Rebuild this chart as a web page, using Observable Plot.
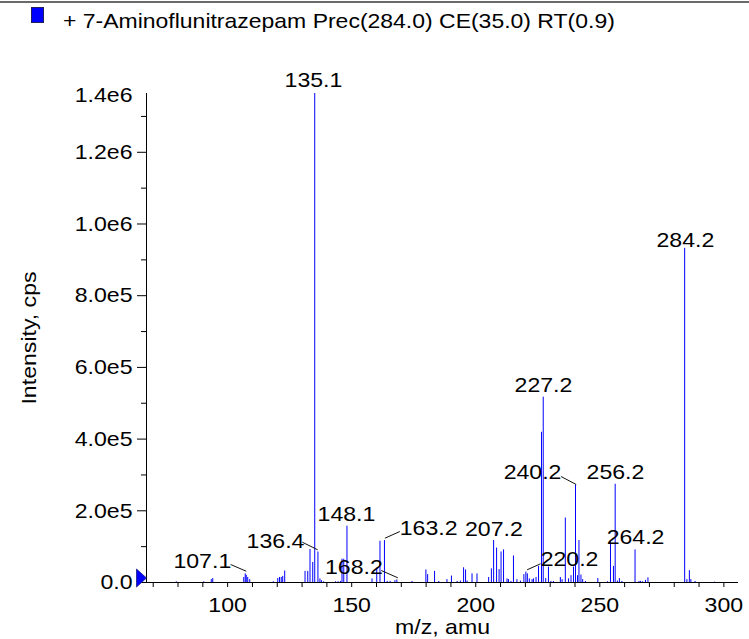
<!DOCTYPE html>
<html>
<head>
<meta charset="utf-8">
<script src="https://cdn.jsdelivr.net/npm/d3@7"></script>
<script src="https://cdn.jsdelivr.net/npm/@observablehq/plot@0.6"></script>
<style>
  html, body { margin: 0; padding: 0; background: #fff; }
  #page { position: relative; width: 749px; height: 639px; overflow: hidden; }
  #hdr { position: relative; width: 749px; height: 40px; }
  #topline { position: absolute; left: 0; top: 1px; width: 749px; height: 2px; background: #6a6a6a; }
  #swatch { position: absolute; left: 31px; top: 7px; width: 13px; height: 16px; background: #0000ff; border: 1px solid #202060; box-sizing: border-box; }
  #title { position: absolute; left: 63px; top: 10px; font-family: "Liberation Sans", Arial, sans-serif; font-size: 21px; line-height: 21px; white-space: nowrap; transform: scaleX(1.094); transform-origin: 0 0; color: #000; }
  #chart svg { display: block; }
</style>
</head>
<body>
<div id="page">
  <div id="hdr">
    <div id="topline"></div>
    <div id="swatch"></div>
    <div id="title">+ 7-Aminoflunitrazepam Prec(284.0) CE(35.0) RT(0.9)</div>
  </div>
  <div id="chart"></div>
</div>
<script>
// ---- data ----
const peakMz = [
  79.3, 90.4, 93.4, 94.0, 106.5, 107.1, 107.5, 108.1, 108.9,
  118.4, 120.2, 120.9, 121.6, 122.2, 123.0,
  131.2, 132.3, 133.2, 134.3, 135.1, 136.4, 137.2, 137.8, 138.7,
  143.5, 144.5, 145.5, 146.1, 146.8, 148.1,
  158.2, 160.1, 161.4, 163.2, 164.3, 165.5, 167.4, 168.2, 174.3,
  179.9, 180.6, 183.4, 185.1, 188.4, 190.2, 192.5, 193.8, 195.1, 195.9, 196.5,
  198.5, 200.5, 205.2, 206.3, 207.2, 208.4, 209.4, 210.2, 211.2, 212.6, 213.2, 214.2,
  215.2, 216.6, 218.0, 219.4, 220.2, 220.8, 221.6, 222.7, 223.3, 224.3, 225.3,
  226.5, 227.2, 228.2, 229.3, 230.3, 231.3, 234.1, 234.8, 236.1, 237.4, 238.4, 239.4,
  240.2, 241.0, 241.6, 242.4, 243.1, 244.2, 249.2,
  253.1, 254.3, 255.5, 256.2, 257.1, 257.9, 258.9,
  264.2, 265.8, 266.4, 267.2, 268.4, 269.4,
  284.2, 285.1, 286.1, 286.7, 288.4, 296.2
];
const peakIntensity = [
  2000, 2000, 8000, 11000, 14000, 24000, 20000, 14000, 8000,
  2000, 11000, 14000, 14000, 17000, 32000,
  31000, 31000, 92000, 56000, 1364000, 85000, 10000, 5000, 2000,
  2000, 2000, 3000, 65000, 65000, 157000,
  10000, 40000, 115000, 117000, 3000, 3000, 5000, 7000, 3000,
  35000, 22000, 31000, 3000, 8000, 18000, 3000, 4000, 41000, 35000, 4000,
  24000, 24000, 14000, 38000, 117000, 96000, 36000, 85000, 91000, 10000, 8000, 3000,
  74000, 8000, 4000, 22000, 29000, 24000, 10000, 8000, 10000, 14000, 45000,
  419000, 517000, 11000, 43000, 3000, 3000, 14000, 8000, 180000, 10000, 19000, 43000,
  272000, 19000, 117000, 21000, 8000, 3000, 11000,
  2000, 113000, 45000, 274000, 4000, 11000, 3000,
  91000, 3000, 3000, 2000, 6000, 13000,
  932000, 8000, 33000, 8000, 3000, 1000
];

// peak annotations: text and where the text sits (m/z, intensity units)
const labelText = ["135.1", "284.2", "227.2", "240.2", "256.2", "264.2", "220.2", "207.2", "163.2", "168.2", "148.1", "136.4", "107.1"];
const labelMz   = [134.6, 284.5, 227.3, 222.9, 256.3, 264.4, 237.8, 207.3, 181.0, 150.9, 147.9, 119.3, 89.8];
const labelY    = [1400000, 954000, 549000, 307000, 307000, 125000, 65500, 148000, 150600, 41800, 189700, 114400, 58600];

// leader lines from label to peak
const leaderFromMz = [234.4, 226.1, 169.4, 161.9, 130.1, 101.2];
const leaderFromY  = [295600, 52200, 142200, 33500, 112400, 50200];
const leaderToMz   = [240.5, 220.7, 163.4, 168.6, 136.3, 107.5];
const leaderToY    = [273300, 35400, 123600, 13100, 91200, 31500];

// axes
const xDomain = [67.3, 305.9];
const yDomain = [0, 1364000];
const xTickValues = [70, 80, 90, 100, 110, 120, 130, 140, 150, 160, 170, 180, 190, 200, 210, 220, 230, 240, 250, 260, 270, 280, 290, 300];
const xLabelValues = [100, 150, 200, 250, 300];
const xLabelText = ["100", "150", "200", "250", "300"];
const yMajorTicks = [0, 200000, 400000, 600000, 800000, 1000000, 1200000];
const yMajorText = ["0.0", "2.0e5", "4.0e5", "6.0e5", "8.0e5", "1.0e6", "1.2e6"];
const yMinorTicks = [100000, 300000, 500000, 700000, 900000, 1100000, 1300000];
const yTopLabel = "1.4e6";
const xTitle = "m/z, amu";
const yTitle = "Intensity, cps";

// ---- build tables ----
const peaks = peakMz.map((mz, i) => ({mz, intensity: peakIntensity[i]}));
const labels = labelText.map((t, i) => ({t, x: labelMz[i], y: labelY[i]}));
const leaders = leaderFromMz.map((x1, i) => ({x1, y1: leaderFromY[i], x2: leaderToMz[i], y2: leaderToY[i]}));
const xLabelMap = new Map(xLabelValues.map((v, i) => [v, xLabelText[i]]));
const yLabelMap = new Map(yMajorTicks.map((v, i) => [v, yMajorText[i]]));

const triangle = {
  draw(ctx) {
    ctx.moveTo(-10, -9);
    ctx.lineTo(0, 0);
    ctx.lineTo(-10, 9);
    ctx.closePath();
  }
};

const chart = Plot.plot({
  width: 749,
  height: 599,
  marginLeft: 146,
  marginRight: 11,
  marginTop: 53,
  marginBottom: 57,
  x: {domain: xDomain},
  y: {domain: yDomain},
  style: {fontFamily: "'Liberation Sans', Arial, sans-serif", fontSize: "21px", color: "#000", background: "#fff", overflow: "visible"},
  marks: [
    Plot.ruleX(peaks, {x: "mz", y1: 0, y2: "intensity", stroke: "#0000ff", strokeWidth: 1}),
    Plot.link(leaders, {x1: "x1", y1: "y1", x2: "x2", y2: "y2", stroke: "#111", strokeWidth: 1}),
    Plot.ruleY([0], {stroke: "#000", strokeWidth: 1}),
    Plot.ruleX([xDomain[0]], {y1: yDomain[0], y2: yDomain[1], stroke: "#000", strokeWidth: 1}),
    Plot.axisX({ticks: xTickValues, tickSize: 5, tickPadding: 10, tickFormat: d => xLabelMap.get(d) ?? "", label: null, stroke: "#000"}),
    Plot.axisY({ticks: yMajorTicks, tickSize: 9, tickPadding: 5, tickFormat: d => yLabelMap.get(d), label: null, stroke: "#000"}),
    Plot.axisY({ticks: yMinorTicks, tickSize: 5, tickFormat: () => "", label: null, stroke: "#000"}),
    Plot.text([yTopLabel], {x: () => xDomain[0], y: () => yDomain[1], text: d => d, textAnchor: "end", dx: -14, dy: 2, fill: "#000"}),
    Plot.text(labels, {x: "x", y: "y", text: "t", fill: "#000"}),
    Plot.dot([0], {x: () => xDomain[0], y: () => 0, symbol: triangle, r: 5, fill: "#0000ff", stroke: "#1a1a80", strokeWidth: 0.8, dy: -4.5}),
    Plot.text([yTitle], {frameAnchor: "left", textAnchor: "middle", lineAnchor: "middle", dx: -117, rotate: -90, text: d => d, fill: "#000"}),
    Plot.text([xTitle], {frameAnchor: "bottom", textAnchor: "middle", lineAnchor: "middle", dy: 45, text: d => d, fill: "#000"})
  ]
});

document.getElementById("chart").appendChild(chart);

// the reference face is slightly wider than Arial metrics; stretch glyphs horizontally
const K = 1.1;
chart.querySelectorAll("text").forEach(t => {
  const len = t.getComputedTextLength();
  if (len > 0) {
    t.setAttribute("textLength", (len * K).toFixed(2));
    t.setAttribute("lengthAdjust", "spacingAndGlyphs");
  }
});
</script>
</body>
</html>
